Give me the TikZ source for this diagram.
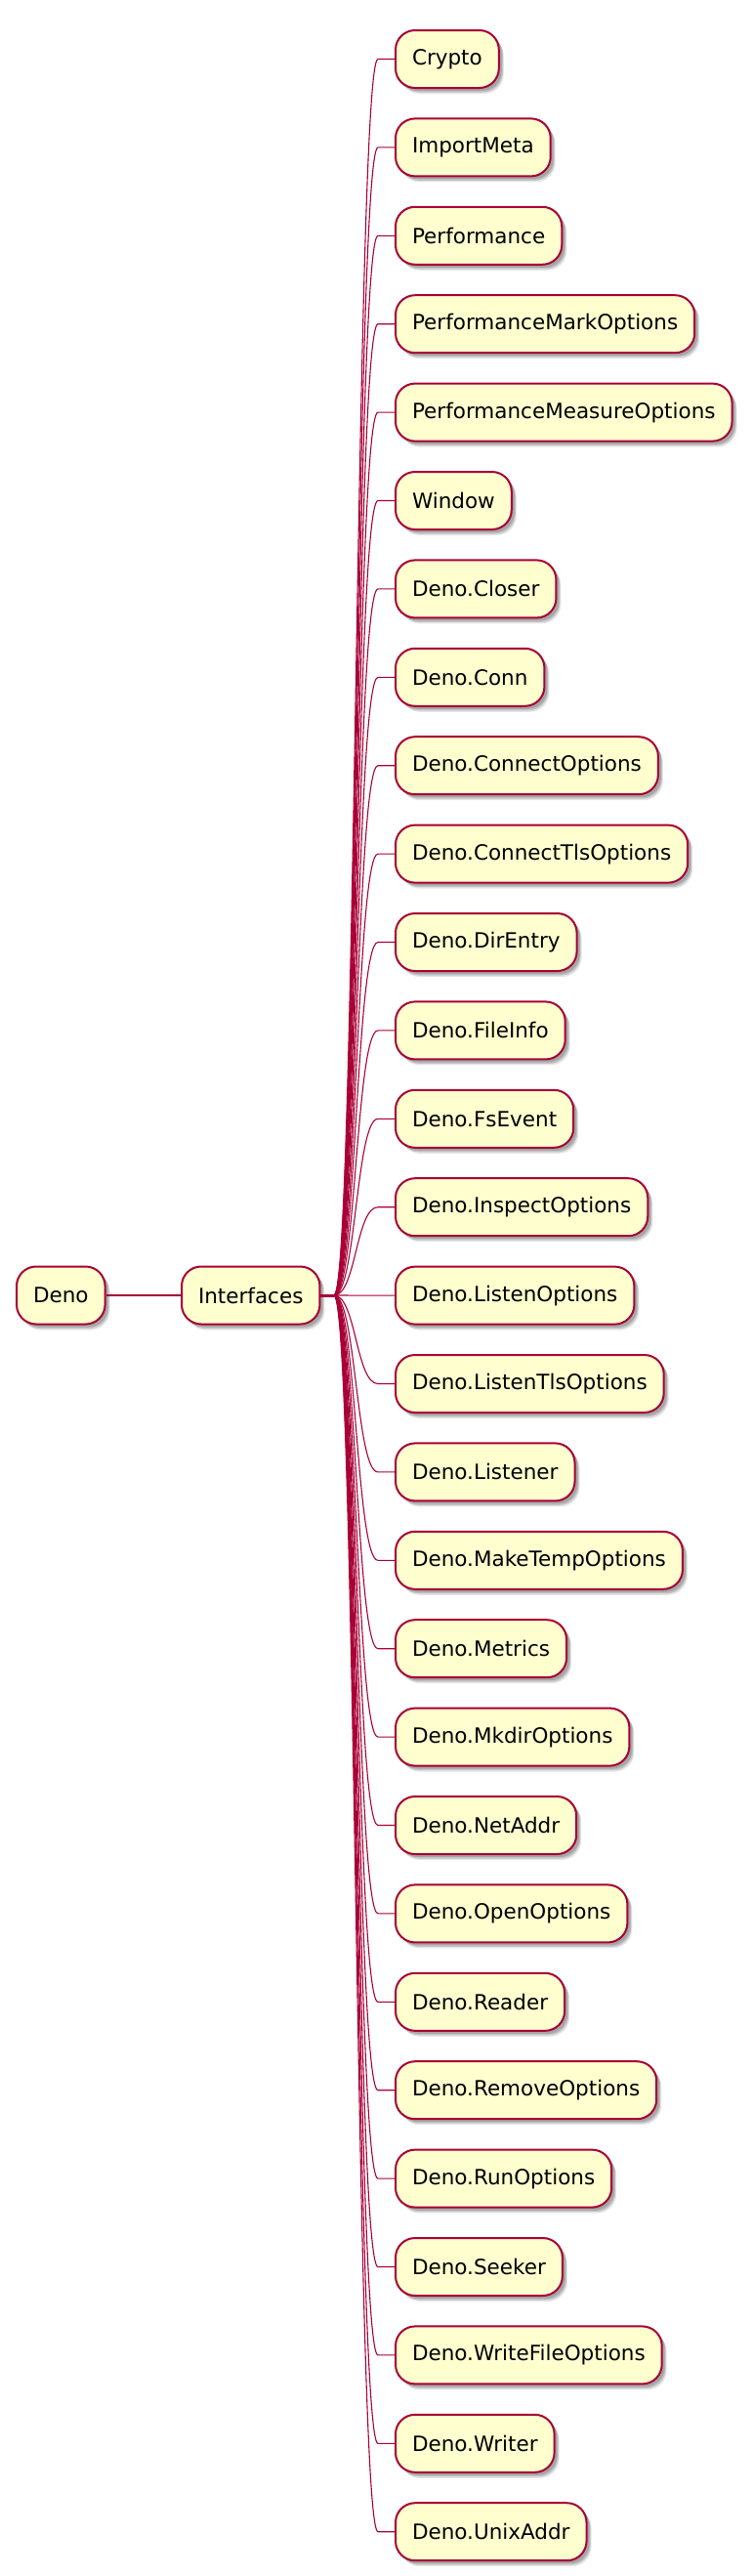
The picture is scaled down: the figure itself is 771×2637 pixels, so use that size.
\documentclass[tikz,border=0pt]{standalone}
\usepackage{fontspec}
\setmainfont{DejaVu Sans}
\usetikzlibrary{shadows}
\definecolor{pumlred}{HTML}{A80036}
\definecolor{pumlfill}{HTML}{FEFECE}
\tikzset{
  box/.style={draw=pumlred, fill=pumlfill, line width=2pt, rounded corners=20pt,
    minimum height=59pt, inner xsep=17pt, inner ysep=0pt,
    font=\fontsize{21.5}{26}\selectfont,
    drop shadow={shadow xshift=5pt, shadow yshift=-6pt, fill=black, opacity=0.10},
    drop shadow={shadow xshift=4pt, shadow yshift=-4.5pt, fill=black, opacity=0.15},
    drop shadow={shadow xshift=3pt, shadow yshift=-3pt, fill=black, opacity=0.15}},
  link/.style={draw=pumlred, line width=1.1pt},
}
\begin{document}
\begin{tikzpicture}[x=1pt,y=1pt]
\useasboundingbox (0,0) rectangle (771,-2637);
\node[box, anchor=west] (deno) at (16,-1326) {Deno};
\node[box, anchor=west] (intf) at (185,-1326) {Interfaces};
\coordinate (br) at (342,-1326);
\draw[link] (deno.east) -- (intf.west);
\draw[link, line width=3pt] (intf.east) -- (br);
\foreach \t [count=\i from 0] in {Crypto, ImportMeta, Performance, PerformanceMarkOptions, PerformanceMeasureOptions, Window, Deno.Closer, Deno.Conn, Deno.ConnectOptions, Deno.ConnectTlsOptions, Deno.DirEntry, Deno.FileInfo, Deno.FsEvent, Deno.InspectOptions, Deno.ListenOptions, Deno.ListenTlsOptions, Deno.Listener, Deno.MakeTempOptions, Deno.Metrics, Deno.MkdirOptions, Deno.NetAddr, Deno.OpenOptions, Deno.Reader, Deno.RemoveOptions, Deno.RunOptions, Deno.Seeker, Deno.WriteFileOptions, Deno.Writer, Deno.UnixAddr} {
  \pgfmathsetmacro\yy{-(60.5+90.4*\i)}
  \node[box, anchor=west] (c\i) at (404,\yy) {\t};
  \coordinate (e\i) at (387,\yy);
  \draw[link] (br) .. controls +(22.5,0) and +(-22.5,0) .. (e\i) -- (c\i.west);
}
\end{tikzpicture}
\end{document}
